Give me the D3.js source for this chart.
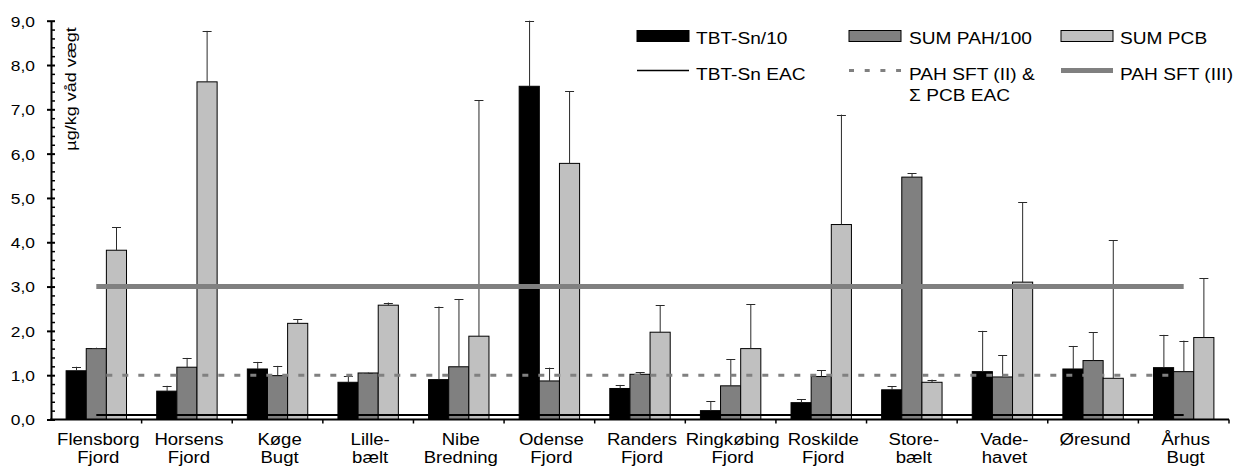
<!DOCTYPE html>
<html>
<head>
<meta charset="utf-8">
<script src="https://cdn.jsdelivr.net/npm/d3@7"></script>
<style>
  html, body { margin: 0; padding: 0; background: #fff; }
  svg { display: block; font-family: "Liberation Sans", Arial, Helvetica, sans-serif; }
</style>
</head>
<body>
<svg id="chart" width="1233" height="469"></svg>
<script>
// ---------------- DATA ----------------
const categories = ["Flensborg Fjord", "Horsens Fjord", "Køge Bugt", "Lillebælt", "Nibe Bredning",
  "Odense Fjord", "Randers Fjord", "Ringkøbing Fjord", "Roskilde Fjord", "Storebælt",
  "Vadehavet", "Øresund", "Århus Bugt"];
const categoryLines = [["Flensborg", "Fjord"], ["Horsens", "Fjord"], ["Køge", "Bugt"], ["Lille-", "bælt"],
  ["Nibe", "Bredning"], ["Odense", "Fjord"], ["Randers", "Fjord"], ["Ringkøbing", "Fjord"],
  ["Roskilde", "Fjord"], ["Store-", "bælt"], ["Vade-", "havet"], ["Øresund"], ["Århus", "Bugt"]];

const seriesNames = ["TBT-Sn/10", "SUM PAH/100", "SUM PCB"];
const tbtValues = [1.10, 0.64, 1.14, 0.84, 0.90, 7.52, 0.70, 0.20, 0.38, 0.67, 1.08, 1.14, 1.17];
const tbtErrTop = [1.19, 0.76, 1.30, 0.98, 2.55, 9.00, 0.78, 0.41, 0.46, 0.75, 2.00, 1.66, 1.91];
const pahValues = [1.60, 1.18, 0.99, 1.05, 1.19, 0.87, 1.02, 0.76, 0.97, 5.47, 0.96, 1.33, 1.08];
const pahErrTop = [1.62, 1.39, 1.21, 1.06, 2.72, 1.17, 1.07, 1.36, 1.11, 5.56, 1.45, 1.97, 1.78];
const pcbValues = [3.82, 7.62, 2.17, 2.58, 1.88, 5.78, 1.97, 1.60, 4.40, 0.84, 3.10, 0.93, 1.85];
const pcbErrTop = [4.34, 8.77, 2.26, 2.64, 7.21, 7.41, 2.58, 2.60, 6.88, 0.90, 4.90, 4.05, 3.19];

const thresholdNames = ["TBT-Sn EAC", "PAH SFT (II) & Σ PCB EAC", "PAH SFT (III)"];
const thresholdValues = [0.1, 1.0, 3.0];

const yTickValues = [0, 1, 2, 3, 4, 5, 6, 7, 8, 9];
const yTickLabels = ["0,0", "1,0", "2,0", "3,0", "4,0", "5,0", "6,0", "7,0", "8,0", "9,0"];
const yTitle = "µg/kg våd vægt";

// ---------------- STYLE / LAYOUT ----------------
const colors = { "TBT-Sn/10": "#000000", "SUM PAH/100": "#808080", "SUM PCB": "#c0c0c0" };
const SX = 1.16; // horizontal text stretch of the original rendering
const plotLeft = 51, plotRight = 1229, plotTop = 20.7, plotBottom = 419.5;

const svg = d3.select("#chart");

const x = d3.scaleBand().domain(categories).range([plotLeft, plotRight]).padding(0);
const xs = d3.scaleBand().domain(seriesNames).range([0, x.bandwidth()]).paddingInner(0).paddingOuter(0.75);
const y = d3.scaleLinear().domain([0, 9]).range([plotBottom, plotTop]);

const rows = categories.map((c, i) => ({
  cat: c,
  items: [
    { s: seriesNames[0], v: tbtValues[i], e: tbtErrTop[i] },
    { s: seriesNames[1], v: pahValues[i], e: pahErrTop[i] },
    { s: seriesNames[2], v: pcbValues[i], e: pcbErrTop[i] }
  ]
}));

// ---------------- BARS ----------------
const groups = svg.append("g").selectAll("g").data(rows).join("g")
  .attr("transform", d => `translate(${x(d.cat)},0)`);

groups.selectAll("rect").data(d => d.items).join("rect")
  .attr("x", d => xs(d.s))
  .attr("y", d => y(d.v))
  .attr("width", xs.bandwidth())
  .attr("height", d => y(0) - y(d.v))
  .attr("fill", d => colors[d.s])
  .attr("stroke", "#000")
  .attr("stroke-width", 1);

// ---------------- ERROR BARS ----------------
const eb = groups.selectAll("g.err").data(d => d.items).join("g").attr("class", "err");
const cx = d => Math.round(xs(d.s) + xs.bandwidth() / 2) + 0.5;
eb.append("line")
  .attr("x1", cx).attr("x2", cx)
  .attr("y1", d => y(d.v))
  .attr("y2", d => y(d.e))
  .attr("stroke", "#2a2a2a").attr("stroke-width", 1);
eb.append("line")
  .attr("x1", d => cx(d) - 4.5)
  .attr("x2", d => cx(d) + 4.5)
  .attr("y1", d => Math.round(y(d.e)) + 0.5)
  .attr("y2", d => Math.round(y(d.e)) + 0.5)
  .attr("stroke", "#2a2a2a").attr("stroke-width", 1);

// ---------------- THRESHOLD LINES ----------------
const xFirst = x(categories[0]) + x.bandwidth() / 2;
const xLast = x(categories[categories.length - 1]) + x.bandwidth() / 2;
const lineStyles = [
  { stroke: "#000", width: 2, dash: null },
  { stroke: "#808080", width: 3, dash: "6,10" },
  { stroke: "#808080", width: 5, dash: null }
];
thresholdValues.forEach((v, i) => {
  const st = lineStyles[i];
  const ln = svg.append("line")
    .attr("x1", xFirst).attr("x2", xLast)
    .attr("y1", y(v)).attr("y2", y(v))
    .attr("stroke", st.stroke).attr("stroke-width", st.width);
  if (st.dash) ln.attr("stroke-dasharray", st.dash).attr("stroke-dashoffset", -10);
});

// ---------------- Y AXIS ----------------
const yAxis = svg.append("g").attr("transform", `translate(${plotLeft},0)`)
  .call(d3.axisLeft(y).tickValues(yTickValues).tickFormat((d, i) => yTickLabels[i])
    .tickSizeInner(4).tickSizeOuter(0).tickPadding(0));
yAxis.select(".domain").attr("stroke", "#000").attr("stroke-width", 2);
yAxis.selectAll(".tick line").attr("x1", 4).attr("x2", -4).attr("stroke-width", 2);
yAxis.selectAll(".tick text")
  .attr("x", -16 / SX)
  .attr("dy", "0.36em")
  .attr("font-size", 15)
  .attr("font-family", "Liberation Sans, Arial, sans-serif")
  .attr("fill", "#000")
  .attr("transform", `scale(${SX},1)`);

const minorTicks = d3.range(0, 9.001, 0.2).filter(v => Math.abs(v - Math.round(v)) > 1e-6);
const yMinor = svg.append("g").attr("transform", `translate(${plotLeft},0)`)
  .call(d3.axisRight(y).tickValues(minorTicks).tickSize(4).tickFormat(""));
yMinor.select(".domain").remove();
yMinor.selectAll(".tick line").attr("stroke-width", 1.5);

// y title
svg.append("text")
  .attr("transform", `translate(76,89) rotate(-90) scale(1.2,1)`)
  .attr("text-anchor", "middle")
  .attr("font-size", 15)
  .attr("fill", "#000")
  .text(yTitle);

// ---------------- X AXIS ----------------
const xAxis = svg.append("g").attr("transform", `translate(0,${plotBottom})`);
xAxis.append("line").attr("x1", plotLeft - 1).attr("x2", plotRight)
  .attr("y1", 0).attr("y2", 0).attr("stroke", "#000").attr("stroke-width", 2);
const boundaries = categories.map(c => x(c)).concat([x.range()[1]]);
xAxis.selectAll("line.tk").data(boundaries.slice(1)).join("line").attr("class", "tk")
  .attr("x1", d => d).attr("x2", d => d).attr("y1", 0).attr("y2", 4)
  .attr("stroke", "#000").attr("stroke-width", 1.5);

const lbl = svg.append("g").selectAll("text").data(categories).join("text")
  .attr("transform", (c) => `translate(${x(c) + x.bandwidth() / 2 + 2},445) scale(${SX},1)`)
  .attr("text-anchor", "middle")
  .attr("font-size", 16)
  .attr("fill", "#000");
lbl.selectAll("tspan").data((c, i) => categoryLines[i]).join("tspan")
  .attr("x", 0).attr("y", (d, j) => j * 18.3)
  .text(d => d);

// ---------------- LEGEND ----------------
const legend = svg.append("g");
const legendBoxes = [
  { name: seriesNames[0], x: 637, tx: 696 },
  { name: seriesNames[1], x: 849, tx: 909 },
  { name: seriesNames[2], x: 1061, tx: 1120 }
];
legendBoxes.forEach(b => {
  legend.append("rect").attr("x", b.x).attr("y", 30.5).attr("width", 52).attr("height", 11)
    .attr("fill", colors[b.name]).attr("stroke", "#000").attr("stroke-width", 1);
  legend.append("text").attr("transform", `translate(${b.tx},43.5) scale(${SX},1)`)
    .attr("font-size", 16.5).attr("fill", "#000").text(b.name);
});
const legendLines = [
  { i: 0, x: 637, tx: 696 },
  { i: 1, x: 849, tx: 909 },
  { i: 2, x: 1061, tx: 1120 }
];
legendLines.forEach(l => {
  const st = lineStyles[l.i];
  const ln = legend.append("line").attr("x1", l.x).attr("x2", l.x + 52)
    .attr("y1", 70.5).attr("y2", 70.5)
    .attr("stroke", st.stroke).attr("stroke-width", l.i === 0 ? 1.5 : st.width);
  if (st.dash) ln.attr("stroke-dasharray", "5,10.7");
  const parts = l.i === 1 ? ["PAH SFT (II) &", "Σ PCB EAC"] : [thresholdNames[l.i]];
  const t = legend.append("text").attr("transform", `translate(${l.tx},80) scale(${SX},1)`)
    .attr("font-size", 16.5).attr("fill", "#000");
  t.selectAll("tspan").data(parts).join("tspan")
    .attr("x", 0).attr("y", (d, j) => j * 21.5).text(d => d);
});
</script>
</body>
</html>
